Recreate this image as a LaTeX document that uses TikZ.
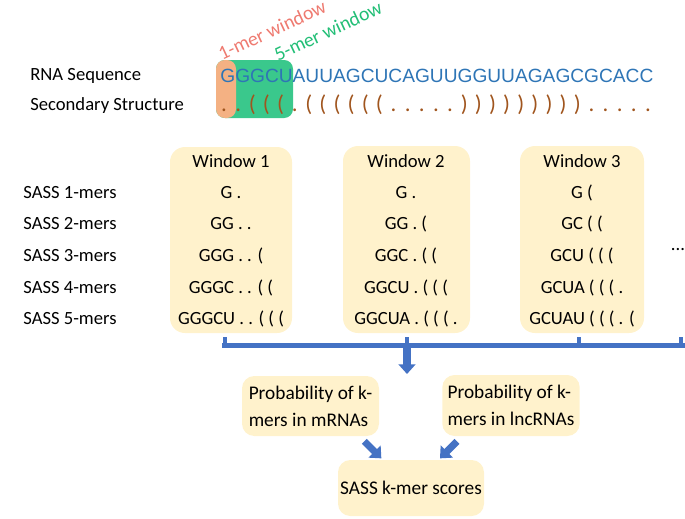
\documentclass[tikz,border=0pt]{standalone}
\usepackage{fontspec}
\setmainfont{Carlito}
\newfontfamily\seqfont{Liberation Sans}
\usetikzlibrary{arrows.meta}
\definecolor{seqblue}{RGB}{46,117,182}
\definecolor{ssbrown}{RGB}{160,85,30}
\definecolor{onemer}{RGB}{244,177,131}
\definecolor{fivemer}{RGB}{58,200,140}
\definecolor{onelabel}{RGB}{238,122,112}
\definecolor{fivelabel}{RGB}{34,190,118}
\definecolor{winfill}{RGB}{255,242,204}
\definecolor{barblue}{RGB}{68,114,196}

\begin{document}
\begin{tikzpicture}[x=0.02cm, y=-0.02cm,
	txt/.style = {font=\fontsize{10.6}{12.5}\selectfont, inner sep=0pt},
	rowlbl/.style = {txt, anchor=west},
	win/.style = {fill=winfill, rounded corners=8.5pt, inner sep=0pt},
	ss/.style = {font=\fontsize{13}{14}\selectfont, text=ssbrown, inner sep=0pt},
	probbox/.style = {win, rounded corners=7pt, align=left, font=\fontsize{11}{15.5}\selectfont, inner xsep=3pt},
	blockarrow/.style = {barblue, line width=4pt, -{Triangle[length=5.5pt, width=9.5pt]}}
]
		\useasboundingbox (0,0) rectangle (685,518);

		\node[rowlbl] (rna) at (30,76) {RNA Sequence};
		\node[rowlbl] (sec) at (30,106) {Secondary Structure};

		\fill[fivemer, rounded corners=5pt] (216,60) rectangle (293,118);
		\fill[onemer, rounded corners=5pt] (216,60) rectangle (236,118);
		\node[txt, font=\fontsize{11.2}{12}\selectfont, rotate=25, text=onelabel] (one) at (272,30) {1-mer window};
		\node[txt, font=\fontsize{11.2}{12}\selectfont, rotate=25, text=fivelabel] (five) at (328,31) {5-mer window};

		\node[anchor=west, inner sep=0pt, text=seqblue, font=\seqfont\fontsize{10.9}{12}\selectfont] (seq) at (220,76) {GGGCUAUUAGCUCAGUUGGUUAGAGCGCACC};
		\foreach \c [count=\i] in {0,0,1,1,1,0,1,1,1,1,1,1,0,0,0,0,0,2,2,2,2,2,2,2,2,2,0,0,0,0,0}
			\node[ss, anchor=base] (s\i) at ({224+(\i-1)*14.13},111) {\ifcase\c .\or (\or )\fi};

		\node[win, minimum width=122*0.02cm, minimum height=186*0.02cm] (w1) at (231,240) {};
		\node[win, minimum width=127*0.02cm, minimum height=187*0.02cm] (w2) at (406.5,239.5) {};
		\node[win, minimum width=124*0.02cm, minimum height=187*0.02cm] (w3) at (582,239.5) {};

		\node[txt] (t1) at (231,161) {Window 1};
		\node[txt] (t2) at (406,161) {Window 2};
		\node[txt] (t3) at (582,161) {Window 3};

		\node[rowlbl] (k1) at (23,193) {SASS 1-mers};
		\node[rowlbl] (k2) at (23,224) {SASS 2-mers};
		\node[rowlbl] (k3) at (23,256) {SASS 3-mers};
		\node[rowlbl] (k4) at (23,288) {SASS 4-mers};
		\node[rowlbl] (k5) at (23,319) {SASS 5-mers};

		\node[txt] (a1) at (231,193) {G .};
		\node[txt] (a2) at (231,224) {GG . .};
		\node[txt] (a3) at (231,256) {GGG . . (};
		\node[txt] (a4) at (231,288) {GGGC . . ( (};
		\node[txt] (a5) at (231,319) {GGGCU . . ( ( (};

		\node[txt] (b1) at (406,193) {G .};
		\node[txt] (b2) at (406,224) {GG . (};
		\node[txt] (b3) at (406,256) {GGC . ( (};
		\node[txt] (b4) at (406,288) {GGCU . ( ( (};
		\node[txt] (b5) at (406,319) {GGCUA . ( ( ( .};

		\node[txt] (c1) at (582,193) {G (};
		\node[txt] (c2) at (582,224) {GC ( (};
		\node[txt] (c3) at (582,256) {GCU ( ( (};
		\node[txt] (c4) at (582,288) {GCUA ( ( ( .};
		\node[txt] (c5) at (582,319) {GCUAU ( ( ( . (};

		\node[txt] (more) at (678,250) {...};

		\coordinate (bl) at (222,345.5);
		\coordinate (br) at (685,345.5);
		\draw[barblue, line width=3pt] (bl) -- (br);
		\foreach \x in {225,407,579,681}
			\draw[barblue, line width=2.5pt] (\x,337) -- (\x,348);

		\node[probbox, minimum width=137*0.02cm, minimum height=60*0.02cm] (mrna) at (310.5,406) {Probability of k-\\mers in mRNAs};
		\node[probbox, minimum width=136*0.02cm, minimum height=61*0.02cm] (lnc) at (511,405.5) {Probability of k-\\mers in lncRNAs};
		\node[win, txt, font=\fontsize{11}{12}\selectfont, rounded corners=7pt, minimum width=146*0.02cm, minimum height=56*0.02cm] (score) at (411,488) {SASS k-mer scores};

		\coordinate (mid) at (407,346);
		\coordinate (down) at (407,374);
		\draw[blockarrow] (mid) -- (down);
		\draw[blockarrow] (mrna.south east) ++(-15,5) -- ++(17,17);
		\draw[blockarrow] (lnc.south west) ++(15,5) -- ++(-17,17);
\end{tikzpicture}
\end{document}
